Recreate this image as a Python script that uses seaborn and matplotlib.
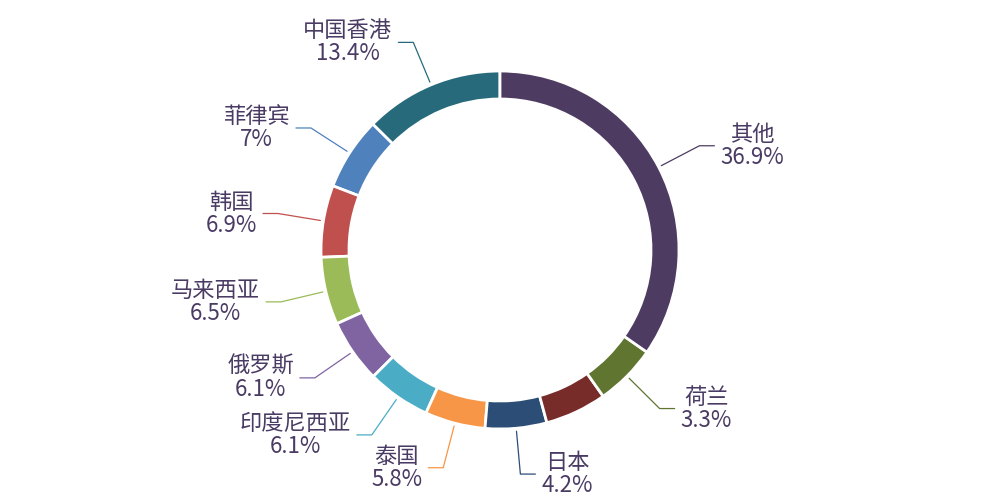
import matplotlib.pyplot as plt
import numpy as np
import seaborn as sns

# 数据：按逆时针顺序，从顶部开始（中国香港在最上方左侧）
names = ['中国香港', '菲律宾', '韩国', '马来西亚', '俄罗斯', '印度尼西亚',
         '泰国', '日本', '', '荷兰', '其他']
shares = [13.4, 7, 6.9, 6.5, 6.1, 6.1, 5.8, 4.2, 3.8, 3.3, 36.9]
colors = ['#276A7C', '#4F81BD', '#C0504D', '#9BBB59', '#8064A2', '#4BACC6',
          '#F79646', '#2C4D75', '#772C2A', '#5F7530', '#4D3B62']

sns.set_theme(style='white')
plt.rcParams['font.family'] = ['Noto Sans CJK SC', 'DejaVu Sans']

text_color = '#4a3b64'


# 小扇区至少占 20 度，其余扇区按比例缩小（与原图一致）
def min_angle_layout(values, min_angle=20):
    unit = 360 / sum(values)
    small = [v * unit < min_angle for v in values]
    rest = 360 - min_angle * sum(small)
    big_sum = sum(v for v, s in zip(values, small) if not s)
    unit2 = rest / big_sum
    return [min_angle if s else v * unit2 for v, s in zip(values, small)]


angles = min_angle_layout(shares)

fig = plt.figure(figsize=(10, 5), dpi=100)
ax = fig.add_axes([0, 0, 1, 1])

cx, cy, r = 500, 250, 179
wedges, _ = ax.pie(angles, colors=colors, startangle=90, counterclock=True,
                   radius=r, center=(cx, cy),
                   wedgeprops=dict(width=28, edgecolor='white', linewidth=2))

# 标签和引导线
for w, name, pct, col in zip(wedges, names, shares, colors):
    if not name:
        continue
    mid = np.deg2rad((w.theta1 + w.theta2) / 2)
    dx, dy = np.cos(mid), np.sin(mid)
    x0, y0 = cx + (r + 3) * dx, cy + (r + 3) * dy
    x1, y1 = cx + (r + 46) * dx, cy + (r + 46) * dy
    side = 1 if dx >= 0 else -1
    x2 = x1 + 15 * side
    ax.plot([x0, x1, x2], [y0, y1, y1], color=col, lw=0.9)
    ax.text(x2 + 6 * side, y1, f'{name}\n{pct:g}%',
            ha='left' if side > 0 else 'right', va='center',
            multialignment='center', fontsize=16, color=text_color,
            linespacing=1.0)

ax.set_xlim(0, 1000)
ax.set_ylim(0, 500)
ax.axis('off')

plt.savefig('out.png', dpi=100, facecolor='white')
